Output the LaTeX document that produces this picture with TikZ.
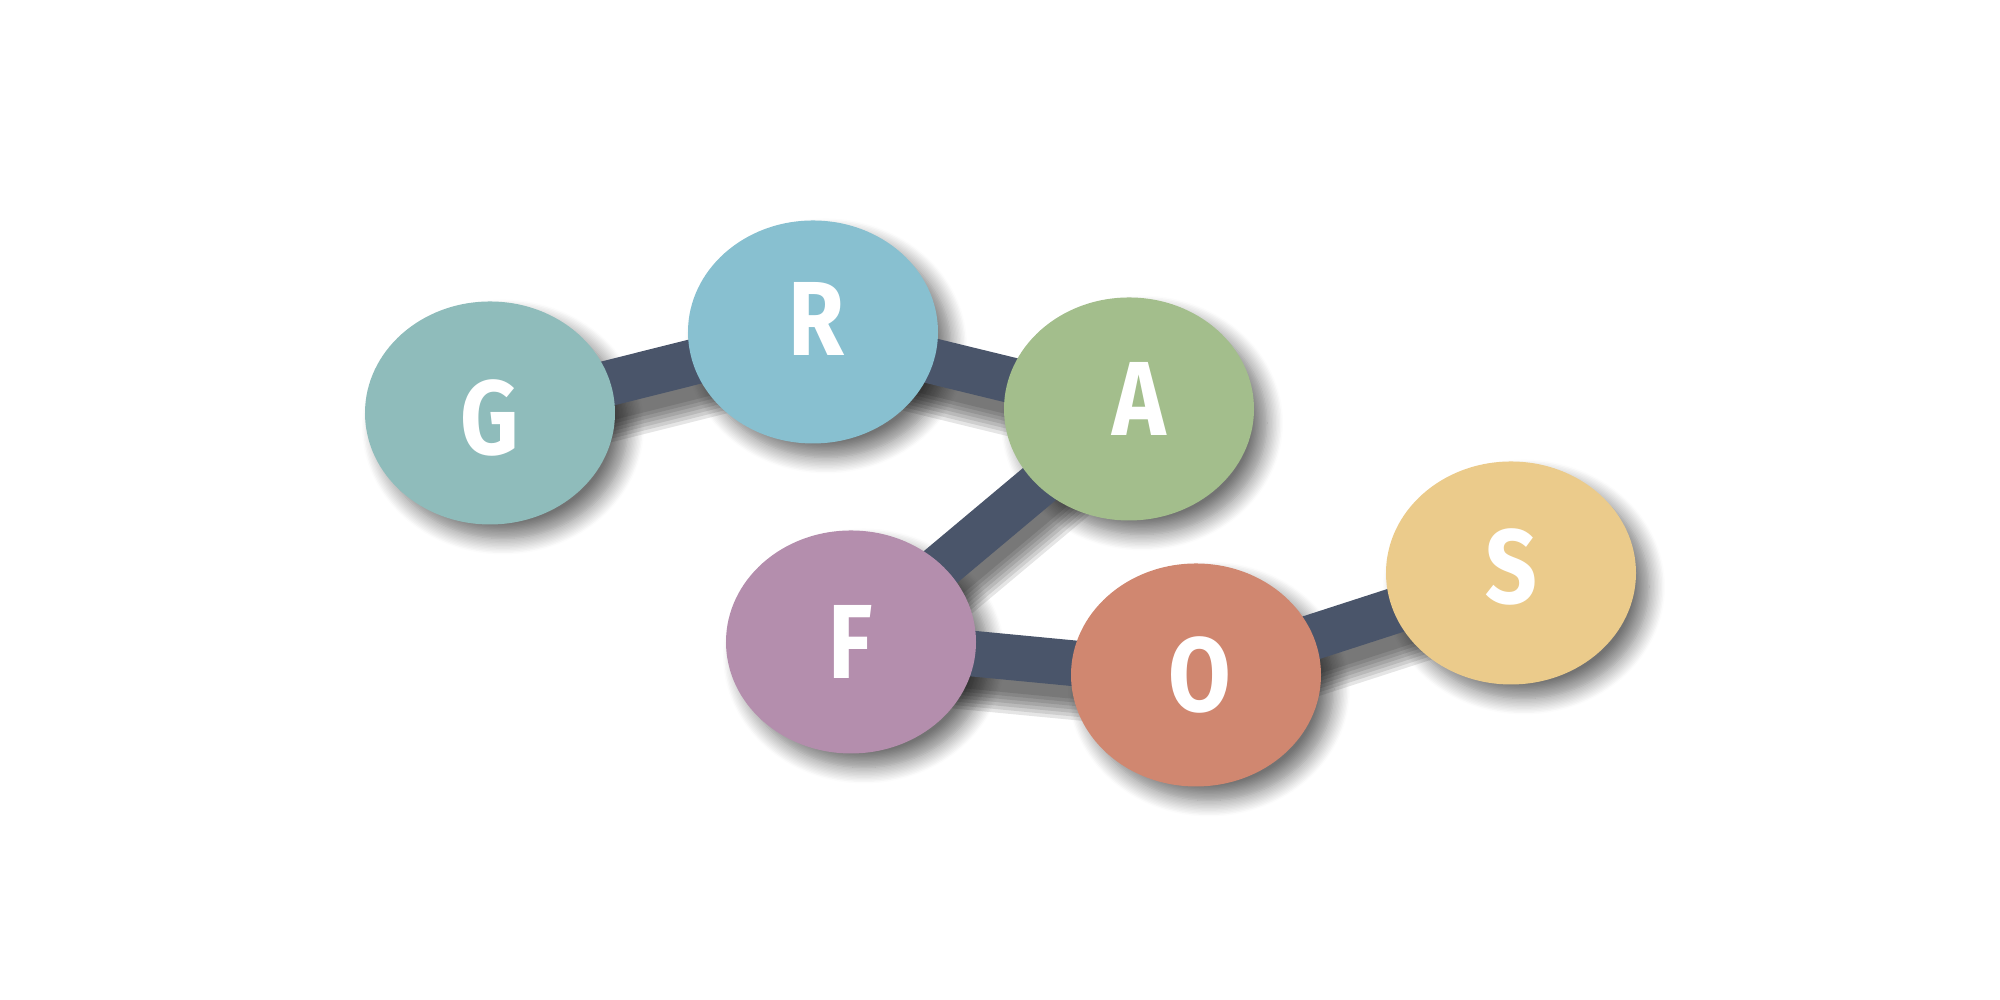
\documentclass[tikz,border=0pt]{standalone}
\usepackage{fontspec}
\setmainfont{Fira Sans}[FakeStretch=0.86]
\usepackage{tikz}
\usetikzlibrary{shapes.geometric, shadows.blur, backgrounds}

\definecolor{nodeG}{HTML}{8FBCBB}
\definecolor{nodeR}{HTML}{88C0D0}
\definecolor{nodeA}{HTML}{A3BE8C}
\definecolor{nodeF}{HTML}{B48EAD}
\definecolor{nodeO}{HTML}{D08770}
\definecolor{nodeS}{HTML}{EBCB8B}
\definecolor{slate}{HTML}{4A556A}

% letter moved inside its node, box size kept
\newcommand{\shifted}[3]{\raisebox{#2}[\height][\depth]{\hspace*{#1}#3\hspace*{-#1}}}

\begin{document}
\begin{tikzpicture}
    [
      Letter/.style={ellipse, fill=#1, minimum width=2.5cm, minimum height=2.23cm, inner sep=0pt, text=white,
        font=\fontsize{30}{36}\selectfont\bfseries},
      NodeShade/.style={blur shadow={shadow xshift=1.3mm, shadow yshift=-1.4mm, shadow blur radius=1.6mm,
        shadow blur steps=12, shadow opacity=55}},
      Bar/.style={draw=slate, line width=13pt},
      BarShade/.style={draw=black, line width=#1, opacity=0.1, transform canvas={shift={(0.6mm,-2.2mm)}}},
    ]

    \useasboundingbox (0, 0) rectangle (20, 10);

    % Nodes
    \node[Letter=nodeG] (G) at (4.90, 5.87) {\shifted{0mm}{-0.45mm}{G}};
    \node[Letter=nodeR] (R) at (8.13, 6.68) {\shifted{0.3mm}{1.3mm}{R}};
    \node[Letter=nodeA] (A) at (11.29, 5.91) {\shifted{1.0mm}{1.0mm}{A}};
    \node[Letter=nodeF] (F) at (8.51, 3.58) {F};
    \node[Letter=nodeO] (O) at (11.96, 3.25) {\shifted{0.4mm}{0mm}{O}};
    \node[Letter=nodeS] (S) at (15.11, 4.27) {\shifted{0mm}{0.6mm}{S}};

    \begin{pgfonlayer}{background}
      % Shadows
      \path[NodeShade] (G.center) ellipse [x radius=1.25cm, y radius=1.115cm];
      \path[NodeShade] (R.center) ellipse [x radius=1.25cm, y radius=1.115cm];
      \path[NodeShade] (A.center) ellipse [x radius=1.25cm, y radius=1.115cm];
      \path[NodeShade] (F.center) ellipse [x radius=1.25cm, y radius=1.115cm];
      \path[NodeShade] (O.center) ellipse [x radius=1.25cm, y radius=1.115cm];
      \path[NodeShade] (S.center) ellipse [x radius=1.25cm, y radius=1.115cm];
      \foreach \w in {8pt, 10pt, 12pt, 14pt, 16pt, 18pt, 20pt} {
        \path[BarShade=\w] (G.center) -- (R.center);
        \path[BarShade=\w] (R.center) -- (A.center);
        \path[BarShade=\w] (A.center) -- (F.center);
        \path[BarShade=\w] (F.center) -- (O.center);
        \path[BarShade=\w] (O.center) -- (S.center);
      }
      % Lines
      \path[Bar] (G.center) -- (R.center);
      \path[Bar] (R.center) -- (A.center);
      \path[Bar] (A.center) -- (F.center);
      \path[Bar] (F.center) -- (O.center);
      \path[Bar] (O.center) -- (S.center);
    \end{pgfonlayer}

\end{tikzpicture}
\end{document}
